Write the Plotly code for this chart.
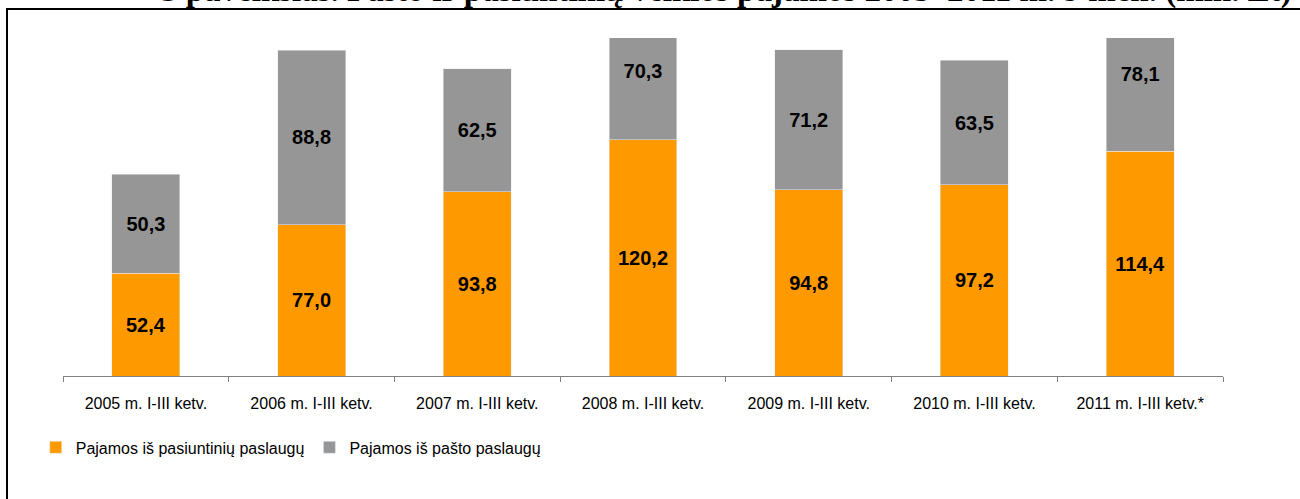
import plotly.graph_objects as go

# Data (mln. Lt)
categories = [
    "2005 m. I-III ketv.",
    "2006 m. I-III ketv.",
    "2007 m. I-III ketv.",
    "2008 m. I-III ketv.",
    "2009 m. I-III ketv.",
    "2010 m. I-III ketv.",
    "2011 m. I-III ketv.*",
]
courier_income = [52.4, 77.0, 93.8, 120.2, 94.8, 97.2, 114.4]
postal_income = [50.3, 88.8, 62.5, 70.3, 71.2, 63.5, 78.1]

ORANGE = '#FF9900'
GREY = '#969696'
SANS = "Liberation Sans, Arial, sans-serif"
label_font = dict(family=SANS, size=20, color='black', weight='bold')

fig = go.Figure()

fig.add_trace(go.Bar(
    name='Pajamos iš pasiuntinių paslaugų',
    x=categories,
    y=courier_income,
    marker_color=ORANGE,
    texttemplate='%{y:.1f}',
    textposition='inside',
    insidetextanchor='middle',
    textangle=0,
    constraintext='none',
    textfont=label_font,
))

fig.add_trace(go.Bar(
    name='Pajamos iš pašto paslaugų',
    x=categories,
    y=postal_income,
    marker_color=GREY,
    texttemplate='%{y:.1f}',
    textposition='inside',
    insidetextanchor='middle',
    textangle=0,
    constraintext='none',
    textfont=label_font,
))

fig.update_layout(
    width=1300,
    height=499,
    barmode='stack',
    bargap=0.59,
    separators=', ',
    plot_bgcolor='white',
    paper_bgcolor='white',
    margin=dict(l=63, r=77, t=38, b=123),
    font=dict(family=SANS, size=16, color='black'),
    showlegend=True,
    legend=dict(
        orientation='h',
        x=-0.0235,
        xanchor='left',
        y=-0.161,
        yanchor='top',
        font=dict(family=SANS, size=16, color='black'),
        itemclick=False,
        traceorder='normal',
    ),
    xaxis=dict(
        showline=True,
        linecolor='#808080',
        linewidth=1,
        ticks='outside',
        tickson='boundaries',
        ticklen=5,
        tickcolor='#808080',
        ticklabelstandoff=13,
        showgrid=False,
        tickfont=dict(family=SANS, size=16, color='black'),
    ),
    yaxis=dict(visible=False, range=[0, 172]),
)

# chart caption, cut off at the top of the page like the source image
fig.add_annotation(
    text='3 paveikslas. Pašto ir pasiuntinių veiklos pajamos 2005–2011 m. 9 mėn. (mln. Lt)',
    xref='paper', yref='paper',
    x=0.572, y=(376 - 11) / 338,
    xanchor='center', yanchor='bottom',
    showarrow=False,
    font=dict(family='Liberation Serif', size=33, color='black', weight='bold'),
)

# frame around the figure
fig.add_shape(
    type='rect',
    xref='paper', yref='paper',
    x0=(7 - 63) / 1160, x1=1.1,
    y0=-0.5, y1=(376 - 9) / 338,
    line=dict(color='black', width=2),
    fillcolor='rgba(0,0,0,0)',
)

# page has no body margin so the figure sits at the window's corner
fig.write_html(
    "out.html",
    config={'displayModeBar': False},
    post_script="document.body.style.margin='0';",
)
